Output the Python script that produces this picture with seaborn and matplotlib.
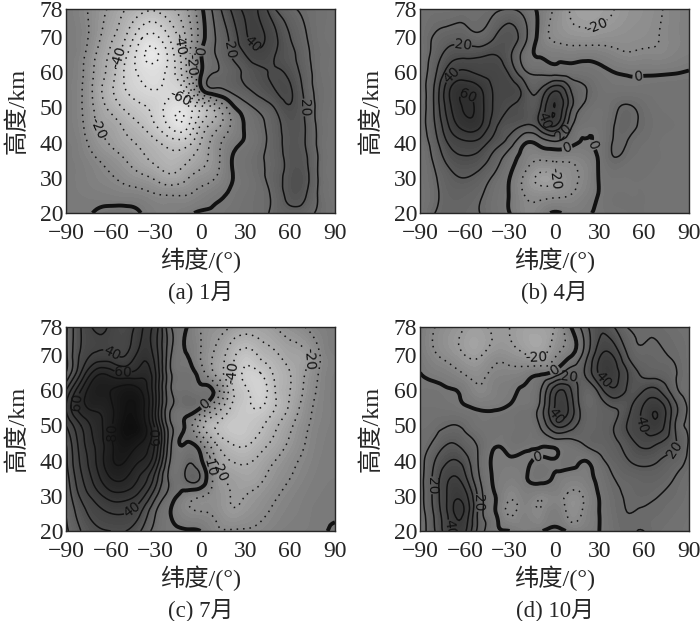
import matplotlib
matplotlib.use("Agg")
import matplotlib.pyplot as plt
import matplotlib.tri as mtri
from matplotlib.colors import TwoSlopeNorm
import numpy as np
import seaborn as sns

LAT = [-90, -80, -70, -60, -50, -40, -30, -20, -10, 0, 10, 20, 30, 40, 50, 60, 70, 80, 90]
ALT = [78, 70, 65, 60, 55, 50, 45, 40, 35, 30, 25, 20]

JAN = [
    [-2, -7, -14, -22, -30, -36, -38, -32, -22, -3, 14, 30, 42, 38, 20, 12, 8, 5, 3],
    [-2, -6, -16, -28, -40, -58, -62, -48, -30, -6, 10, 22, 38, 42, 32, 20, 11, 5, 3],
    [-2, -7, -20, -32, -48, -66, -72, -55, -30, -1, 10, 20, 30, 37, 30, 23, 13, 6, 3],
    [-3, -8, -22, -35, -52, -62, -65, -55, -32, -2, 10, 15, 22, 28, 31, 27, 15, 6, 3],
    [-3, -9, -24, -38, -50, -57, -60, -58, -45, -4, 8, 12, 18, 24, 30, 31, 17, 7, 3],
    [-3, -9, -22, -33, -42, -48, -54, -65, -65, -45, -25, -5, 6, 13, 21, 29, 19, 7, 3],
    [-3, -8, -20, -25, -33, -40, -50, -63, -65, -40, -25, -10, 1, 8, 16, 25, 20, 7, 3],
    [-2, -6, -15, -21, -27, -32, -38, -45, -45, -30, -15, -4, 1, 7, 15, 24, 20, 7, 3],
    [-1, -4, -9, -14, -20, -27, -32, -36, -32, -24, -14, -1, 4, 9, 14, 24, 22, 8, 3],
    [-1, -3, -6, -9, -13, -17, -22, -27, -22, -15, -10, -1, 3, 8, 15, 25, 24, 8, 3],
    [-1, -2, -3, -4, -5, -6, -9, -10, -10, -6, -2, 1, 4, 7, 13, 24, 21, 8, 3],
    [-2, -1, 0.5, 3, 3, 0, -4, -5, -2, 1, 1, 3, 5, 7, 13, 16, 14, 8, 3],
]

APR = [
    [3, 5, 5, 6, 7, 8, 10, 6, -2, -11, -20, -24, -23, -20, -16, -14, -11, -7, -5],
    [4, 11, 15, 15, 12, 20, 25, 13, -3, -12, -15, -16, -15, -14, -13, -12, -10, -7, -5],
    [4, 14, 25, 27, 28, 30, 22, 6, -1, -3, -4, -3, -4, -7, -9, -8, -8, -6, -4],
    [4, 18, 36, 42, 38, 36, 28, 12, 8, 6, 5, 4, 2, 0, -1, -1, -1, -0.5, 0.5],
    [5, 22, 50, 58, 52, 38, 35, 25, 20, 38, 22, 11, 5, 3, 3, 3, 3, 3, 3],
    [5, 22, 48, 61, 55, 38, 30, 25, 28, 50, 25, 8, 4, 8, 11, 7, 4, 3, 3],
    [5, 20, 42, 55, 52, 33, 25, 20, 28, 42, 15, 3, 3, 10, 12, 8, 5, 4, 3],
    [4, 16, 32, 38, 36, 25, 15, 1, 3, 8, 3, -0.5, 2, 11, 9, 6, 4, 3, 3],
    [3, 12, 24, 28, 25, 15, 4, -5, -10, -9, -9, -6, 1, 9, 6, 5, 4, 3, 3],
    [3, 9, 17, 20, 16, 8, 0, -12, -22, -20, -13, -8, 0.5, 4, 4, 4, 3, 3, 3],
    [2, 8, 14, 14, 11, 5, -0.5, -10, -13, -12, -10, -5, 0.5, 4, 4, 4, 3, 3, 3],
    [2, 10, 13, 12, 10, 5, 0, -8, -6, 1, -2, -1, 1, 3, 4, 4, 3, 3, 3],
]

JUL = [
    [8, 30, 42, 38, 32, 48, 45, 11, 1, -10, -15, -20, -25, -25, -20, -15, -10, -5, -3],
    [8, 32, 42, 42, 40, 55, 45, 11, 0.5, -10, -22, -35, -45, -38, -32, -25, -22, -10, -4],
    [10, 40, 65, 65, 60, 65, 50, 11, 4, -5, -22, -38, -52, -50, -38, -30, -20, -9, -4],
    [30, 60, 78, 80, 85, 80, 50, 11, 6, 3, -3, -35, -48, -55, -40, -30, -18, -8, -3],
    [40, 65, 72, 78, 90, 85, 50, 11, 6, 0, -20, -40, -48, -50, -40, -28, -15, -7, -3],
    [30, 50, 65, 78, 93, 88, 55, 12, -1, -25, -40, -47, -47, -42, -32, -22, -12, -6, -3],
    [20, 45, 62, 78, 88, 80, 58, 12, 0, -8, -30, -40, -42, -35, -27, -18, -10, -5, -2],
    [18, 42, 60, 78, 80, 70, 50, 9, 7, 2, -20, -30, -32, -27, -20, -13, -8, -4, -2],
    [15, 38, 55, 70, 70, 58, 35, 7, 10, 9, -14, -22, -25, -22, -15, -10, -6, -3, -2],
    [12, 32, 45, 55, 55, 45, 22, 5, -5, -9, -14, -20, -20, -16, -11, -7, -4, -2, -1],
    [10, 25, 35, 40, 40, 30, 10, 0, -7, -9, -12, -18, -16, -12, -8, -5, -3, -1, -0.5],
    [8, 20, 28, 30, 30, 20, 6, 1, 1, 0, -8, -9, -9, -8, -5, -3, -2, -1, 1],
]

OCT = [
    [-2, -10, -15, -20, -22, -18, -20, -24, -24, -20, -2, 15, 28, 20, 9, 8, 8, 6, 4],
    [-2, -9, -14, -20, -21, -14, -15, -19, -22, -12, -2, 14, 38, 38, 18, 12, 11, 9, 5],
    [0, -3, -6, -11, -13, -8, -7, -5, -2, 3, 15, 20, 42, 45, 28, 17, 15, 11, 5],
    [2, 2, 0.5, -3, -9, -5, -2, 1, 8, 35, 33, 14, 24, 38, 27, 30, 30, 14, 6],
    [4, 4, 3, 1, -1, -1, 1, 3, 12, 40, 38, 14, 15, 20, 28, 42, 47, 25, 8],
    [6, 7, 10, 8, 3, 3, 3, 5, 10, 30, 27, 14, 15, 20, 32, 42, 46, 22, 8],
    [6, 12, 20, 15, 8, 1, 3, 3, 2, 4, 6, 11, 14, 18, 26, 33, 30, 22, 9],
    [6, 20, 30, 25, 8, -1, -1, -1, 1, 0.5, 3, 0, 7, 14, 20, 23, 20, 15, 8],
    [6, 24, 40, 33, 10, -1, -4, -1, 2, -1, -5, -4, 3, 10, 13, 15, 14, 10, 6],
    [6, 24, 44, 44, 15, 0.5, -9, -5, -8, -6, -12, -9, 0.5, 8, 11, 12, 10, 8, 5],
    [5, 22, 44, 48, 15, 1, -11, -6, -9, -3, -12, -8, 0, 7, 10, 9, 8, 6, 4],
    [4, 20, 40, 42, 15, 2, 0, -4, -1, 4, -2, -3, 0, 6, 9, 10, 6, 5, 3],
]

XTICKS = [-90, -60, -30, 0, 30, 60, 90]
YTICKS = [20, 30, 40, 50, 60, 70, 78]
CAPTIONS = ["(a) 1月", "(b) 4月", "(c) 7月", "(d) 10月"]

# contour labels: level, lat, alt
LABELS_JAN = [(-40, -66, 66), (-20, -69, 44), (-40, -15, 68), (-20, -9, 62), (-60, -12, 54),
              (0, 2, 66), (20, 12, 66), (40, 33, 67), (20, 71, 50)]
LABELS_APR = [(20, -61, 68), (40, -71, 60), (60, -59, 52), (40, -8, 46), (20, 6, 43), (0, 8, 39),
              (0, 24, 39), (0, 56, 58), (-20, 30, 72), (-20, 5, 30)]
LABELS_JUL = [(40, -63, 68), (60, -52, 63), (60, -88, 57), (80, -58, 48), (60, -34, 47), (40, -44, 25),
              (0, 5, 55), (-10, 7, 39), (-20, 8, 36), (-40, 22, 65), (-20, 71, 69)]
LABELS_OCT = [(20, -81, 33), (20, -51, 28), (40, -67, 21), (0, -11, 40), (0, -2, 67), (20, 10, 64),
              (40, -1, 52), (40, 30, 62), (40, 55, 50), (20, 81, 43), (-20, -12, 71)]

sns.set_style("ticks")
plt.rcParams["font.family"] = ["Liberation Serif", "Noto Sans CJK SC"]
plt.rcParams["font.size"] = 13

gray_map = sns.blend_palette(["#f0f0f0", "#d0d0d0", "#a6a6a6", "#787878", "#4a4a4a", "#2c2c2c", "#0e0e0e"],
                             as_cmap=True)
norm = TwoSlopeNorm(vmin=-80, vcenter=0, vmax=95)
line_levels = np.arange(-70, 101, 10)


def draw_panel(ax, values, label_points, caption):
    lon, hgt = np.meshgrid(LAT, ALT)
    grid = mtri.Triangulation(lon.ravel(), hgt.ravel())
    fine, fine_z = mtri.UniformTriRefiner(grid).refine_field(np.array(values, dtype=float).ravel(), subdiv=3)

    ax.tricontourf(fine, fine_z, levels=np.arange(-100, 121, 2), cmap=gray_map, norm=norm, extend="both")

    # one contour set per level so each label lands on the level it was read from
    for level in line_levels:
        if level < fine_z.min() or level > fine_z.max():
            continue
        lines = ax.tricontour(fine, fine_z, levels=[level], colors="#111111",
                              linewidths=2.8 if level == 0 else 1.1,
                              linestyles=[(0, (1, 3.2))] if level < 0 else "solid")
        spots = [(x, y) for lev, x, y in label_points if lev == level]
        if spots:
            texts = ax.clabel(lines, manual=spots, fmt="%d", inline=True, inline_spacing=2,
                              fontsize=10, colors="#111111")
            for txt in texts:
                txt.set_family(["DejaVu Sans"])

    ax.set_xlim(-90, 90)
    ax.set_ylim(20, 78)
    ax.set_xticks(XTICKS)
    ax.set_yticks(YTICKS)
    ax.tick_params(axis="y", direction="in", length=2.5, width=0.6, labelsize=17, pad=2)
    ax.tick_params(axis="x", direction="in", length=2.5, width=0.6, labelsize=17, pad=7)
    for side in ax.spines.values():
        side.set_linewidth(1.0)
    ax.set_xlabel("纬度/(°)", fontsize=17.5, labelpad=3)
    ax.set_ylabel("高度/km", fontsize=17.5, labelpad=8)
    ax.text(0.5, -0.385, caption, transform=ax.transAxes, ha="center", va="center", fontsize=16.5)


fig = plt.figure(figsize=(7, 6.21), dpi=100)
boxes = [(66, 9), (420, 9), (66, 327), (420, 327)]
panels = [(JAN, LABELS_JAN), (APR, LABELS_APR), (JUL, LABELS_JUL), (OCT, LABELS_OCT)]
for (left, top), (vals, pts), cap in zip(boxes, panels, CAPTIONS):
    ax = fig.add_axes([left / 700, 1 - (top + 204) / 621, 269 / 700, 204 / 621])
    draw_panel(ax, vals, pts, cap)

fig.savefig("out.png", dpi=100, facecolor="white")
